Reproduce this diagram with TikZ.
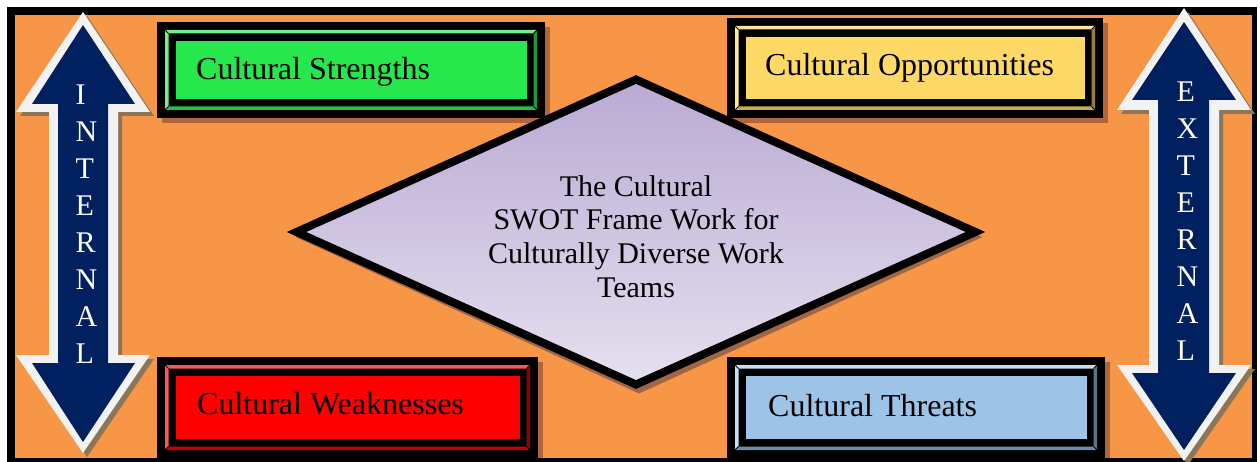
\documentclass[tikz,border=0pt]{standalone}
\usepackage{fontspec}
\setmainfont{Liberation Serif}
\definecolor{orangebg}{RGB}{247,150,70}
\definecolor{navy}{RGB}{0,32,96}
\definecolor{arrowwhite}{RGB}{242,242,242}
\definecolor{arrowshadow}{RGB}{140,118,88}
\definecolor{boxshadow}{RGB}{178,100,58}
\definecolor{dshadow}{RGB}{160,100,70}
\definecolor{dtop}{RGB}{185,170,211}
\definecolor{dbot}{RGB}{229,224,239}
% strengths
\definecolor{sfill}{RGB}{38,232,76}
\definecolor{slight}{RGB}{115,238,135}
\definecolor{smid}{RGB}{40,190,70}
\definecolor{sdark}{RGB}{30,150,60}
% opportunities
\definecolor{ofill}{RGB}{255,217,102}
\definecolor{olight}{RGB}{255,232,155}
\definecolor{omid}{RGB}{200,170,80}
\definecolor{odark}{RGB}{150,125,60}
% weaknesses
\definecolor{wfill}{RGB}{255,0,0}
\definecolor{wlight}{RGB}{255,85,85}
\definecolor{wmid}{RGB}{200,0,0}
\definecolor{wdark}{RGB}{150,0,0}
% threats
\definecolor{tfill}{RGB}{157,195,230}
\definecolor{tlight}{RGB}{200,222,243}
\definecolor{tmid}{RGB}{110,140,170}
\definecolor{tdark}{RGB}{90,115,140}
\tikzset{
  boxtext/.style={anchor=base west, inner sep=0, font=\fontsize{32}{38}\selectfont, text=black},
  arrowtext/.style={anchor=north west, inner sep=0, align=left, text=white},
  bevline/.style={black, line width=1pt}
}
% #1 x1, #2 y1, #3 x2, #4 y2, #5 fill, #6 light, #7 mid (bottom), #8 dark (right)
\newcommand\bevbox[8]{%
  \begin{scope}
  \clip (15,15) rectangle (1252,457.5);
  \fill[boxshadow] (#1+5,#2+5) rectangle (#3+5,#4+5);
  \end{scope}
  \fill[black] (#1,#2) rectangle (#3,#4);
  \fill[#6] (#1+8,#2+8) -- (#3-8,#2+8) -- (#3-11.5,#2+11.5) -- (#1+11.5,#2+11.5) -- cycle;
  \fill[#6] (#1+8,#2+8) -- (#1+11.5,#2+11.5) -- (#1+11.5,#4-11.5) -- (#1+8,#4-8) -- cycle;
  \fill[#7] (#1+8,#4-8) -- (#3-8,#4-8) -- (#3-11.5,#4-11.5) -- (#1+11.5,#4-11.5) -- cycle;
  \fill[#8] (#3-8,#2+8) -- (#3-11.5,#2+11.5) -- (#3-11.5,#4-11.5) -- (#3-8,#4-8) -- cycle;
  \draw[bevline] (#1+8,#2+8) -- (#1+11.5,#2+11.5);
  \draw[bevline] (#3-8,#2+8) -- (#3-11.5,#2+11.5);
  \draw[bevline] (#1+8,#4-8) -- (#1+11.5,#4-11.5);
  \draw[bevline] (#3-8,#4-8) -- (#3-11.5,#4-11.5);
  \fill[#5] (#1+19,#2+19) rectangle (#3-18,#4-19);
}
\begin{document}
\begin{tikzpicture}[x=1pt,y=-1pt,line join=miter]
\useasboundingbox (0,0) rectangle (1260,462);
\fill[white] (0,0) rectangle (1260,462);
% frame
\fill[black] (7,7) rectangle (1257,462);
\fill[orangebg] (15,15) rectangle (1252,457.5);

% boxes
\bevbox{157}{22}{545}{118}{sfill}{slight}{smid}{sdark}
\node[boxtext] (S) at (196,80) {Cultural Strengths};
\bevbox{727}{18}{1103}{118}{ofill}{olight}{omid}{odark}
\node[boxtext] (O) at (765,76) {Cultural Opportunities};
\bevbox{157}{357}{538}{458}{wfill}{wlight}{wmid}{wdark}
\node[boxtext] (W) at (197,414) {Cultural Weaknesses};
\bevbox{727}{357}{1105}{458}{tfill}{tlight}{tmid}{tdark}
\node[boxtext] (T) at (768,416) {Cultural Threats};

% diamond
\coordinate (dt) at (636,79.5);
\coordinate (dr) at (975.5,232);
\coordinate (db) at (636,384.5);
\coordinate (dl) at (296.5,232);
\fill[dshadow] ([shift={(3,5)}]dt) -- ([shift={(7,5)}]dr) -- ([shift={(3,9)}]db) -- ([shift={(-1,5)}]dl) -- cycle;
\draw[line width=8pt, top color=dtop, bottom color=dbot] (dt) -- (dr) -- (db) -- (dl) -- cycle;
\begin{scope}
\clip (400,150) rectangle (880,298.5);
\node[font=\fontsize{30}{33.7}\selectfont, align=center, inner sep=0] (swot) at (636,236.5)
  {The Cultural\\SWOT Frame Work for\\Culturally Diverse Work\\Teams};
\end{scope}

% left arrow (internal)
\fill[arrowshadow, shift={(4,4)}] (83,12) -- (150,112) -- (118,112) -- (118,355) -- (150,355) -- (83,453) -- (16,355) -- (49,355) -- (49,112) -- (16,112) -- cycle;
\fill[arrowwhite] (83,12) -- (150,112) -- (118,112) -- (118,355) -- (150,355) -- (83,453) -- (16,355) -- (49,355) -- (49,112) -- (16,112) -- cycle;
\fill[navy] (83,25) -- (135,104) -- (108,104) -- (108,363) -- (135,363) -- (83,442) -- (32,363) -- (58,363) -- (58,104) -- (32,104) -- cycle;
\node[arrowtext, font=\fontsize{30}{36.9}\selectfont] (int) at (75.5,85) {I\\N\\T\\E\\R\\N\\A\\L};

% right arrow (external)
\fill[arrowshadow, shift={(4,4)}] (1184,8) -- (1251,110) -- (1219,110) -- (1219,365) -- (1251,365) -- (1184,461) -- (1117,365) -- (1149,365) -- (1149,110) -- (1117,110) -- cycle;
\fill[arrowwhite] (1184,8) -- (1251,110) -- (1219,110) -- (1219,365) -- (1251,365) -- (1184,461) -- (1117,365) -- (1149,365) -- (1149,110) -- (1117,110) -- cycle;
\fill[navy] (1184,22) -- (1236,100) -- (1209,100) -- (1209,373) -- (1236,373) -- (1184,450) -- (1132,373) -- (1158,373) -- (1158,100) -- (1132,100) -- cycle;
\node[arrowtext, font=\fontsize{30}{37}\selectfont] (ext) at (1176.5,82) {E\\X\\T\\E\\R\\N\\A\\L};
\end{tikzpicture}
\end{document}
